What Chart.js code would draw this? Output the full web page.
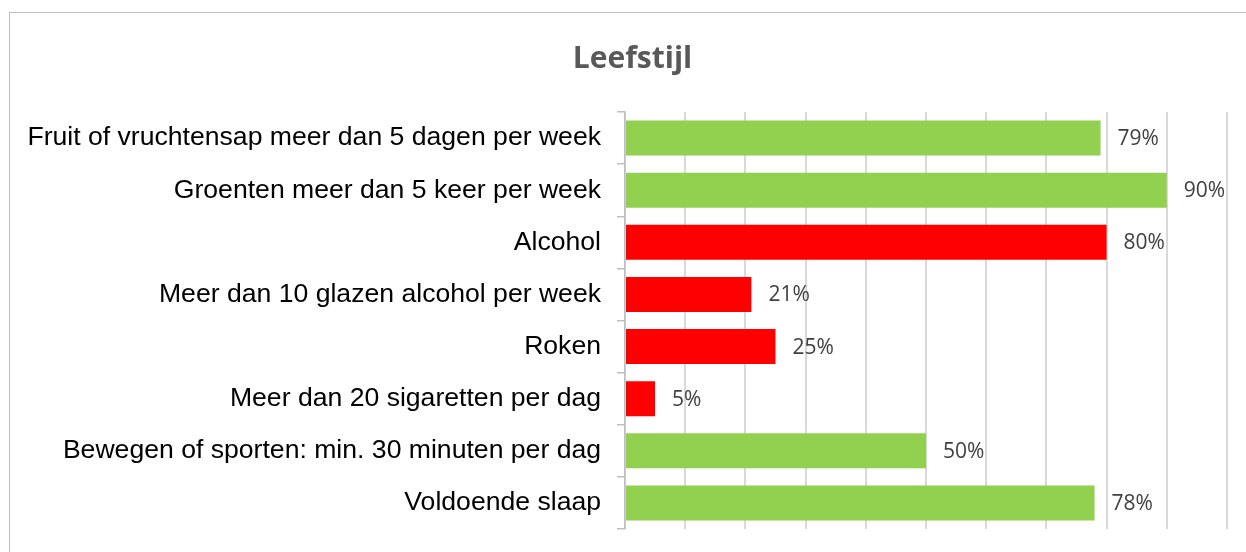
<!DOCTYPE html>
<html>
<head>
<meta charset="utf-8">
<script src="https://cdn.jsdelivr.net/npm/chart.js@4"></script>
<style>
  html, body { margin: 0; padding: 0; background: #fff; }
  #wrap { position: relative; width: 1246px; height: 552px; overflow: hidden; }
  #frame { position: absolute; left: 9px; top: 12px; width: 1260px; height: 560px; border: 1px solid #bfbfbf; box-sizing: border-box; }
  #c { position: absolute; left: 0; top: 0; }
</style>
</head>
<body>
<div id="wrap">
  <div id="frame"></div>
  <canvas id="c" width="1246" height="552"></canvas>
</div>
<script>
// data
const categories = [
  "Fruit of vruchtensap meer dan 5 dagen per week",
  "Groenten meer dan 5 keer per week",
  "Alcohol",
  "Meer dan 10 glazen alcohol per week",
  "Roken",
  "Meer dan 20 sigaretten per dag",
  "Bewegen of sporten: min. 30 minuten per dag",
  "Voldoende slaap"
];
const values = [79, 90, 80, 21, 25, 5, 50, 78];
const barColors = ["#92D050", "#92D050", "#FF0000", "#FF0000", "#FF0000", "#FF0000", "#92D050", "#92D050"];
const titleText = "Leefstijl";

// simple value labels at the bar ends
const valueLabels = {
  id: "valueLabels",
  afterLayout(chart) {
    // centre the title on the outer frame, not on the canvas
    const t = chart.titleBlock;
    if (t) { t.left = 38; t.right = 1227; }
  },
  afterDatasetsDraw(chart) {
    const ctx = chart.ctx;
    const meta = chart.getDatasetMeta(0);
    ctx.save();
    ctx.font = "21px 'Open Sans'";
    ctx.fillStyle = "#404040";
    ctx.textAlign = "left";
    ctx.textBaseline = "middle";
    meta.data.forEach((bar, i) => {
      ctx.fillText(values[i] + "%", bar.x + 17, bar.y + 1);
    });
    ctx.restore();
  }
};

const ctx = document.getElementById("c").getContext("2d");
window._chart = new Chart(ctx, {
  type: "bar",
  data: {
    labels: categories,
    datasets: [{
      data: values,
      backgroundColor: barColors,
      borderWidth: 0,
      barPercentage: 0.67,
      categoryPercentage: 1
    }]
  },
  plugins: [valueLabels],
  options: {
    indexAxis: "y",
    responsive: false,
    animation: false,
    layout: { padding: { left: 0, right: 19, top: 0, bottom: 23 } },
    scales: {
      x: {
        min: 0,
        max: 100,
        ticks: { display: false, stepSize: 10 },
        grid: { color: "#d9d9d9", lineWidth: 2, drawTicks: false },
        border: { display: false }
      },
      y: {
        afterFit: s => { s.width = 625; s.paddingTop = 0; s.paddingBottom = 0; },
        ticks: { color: "#000", font: { family: "'Liberation Sans', Arial", size: 26.6 }, padding: 16 },
        grid: { offset: true, drawOnChartArea: false, tickLength: 8, color: "#bfbfbf", lineWidth: 1.5 },
        border: { color: "#bfbfbf", width: 1.5 }
      }
    },
    plugins: {
      legend: { display: false },
      tooltip: { enabled: false },
      title: {
        display: true,
        text: titleText,
        color: "#595959",
        font: { family: "'Open Sans'", size: 30, weight: "bold" },
        padding: { top: 41, bottom: 35 }
      }
    }
  }
});
</script>
</body>
</html>
